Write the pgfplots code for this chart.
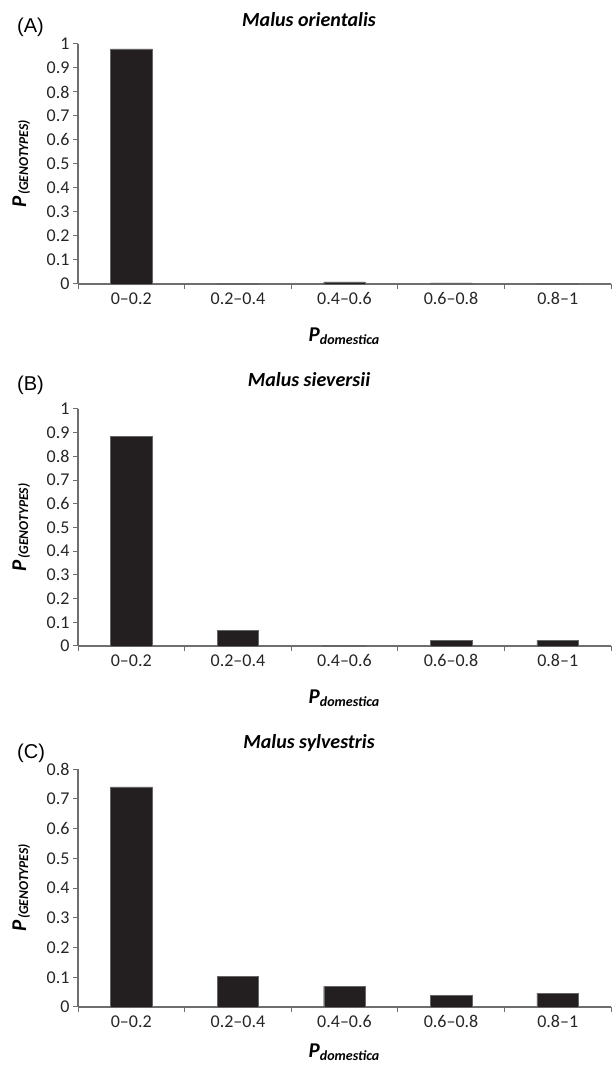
\documentclass[border=0pt]{standalone}
\usepackage{fontspec}
\setmainfont{Carlito}
\newfontfamily\arialf{Liberation Sans}
\usepackage{pgfplots}
\pgfplotsset{compat=1.18}
\definecolor{barfill}{HTML}{231F20}
\definecolor{axgray}{HTML}{6E6E6E}
\pgfplotsset{
  panel/.style={
    scale only axis, width=533pt,
    xmin=-0.5, xmax=4.5, ymin=0,
    axis x line*=bottom, axis y line*=left,
    axis line style={-, draw=axgray, line width=1.1pt},
    tick style={draw=axgray, line width=1.0pt},
    tick align=outside,
    major tick length=5pt,
    xtick={-0.5,0.5,1.5,2.5,3.5,4.5},
    x tick label as interval,
    xticklabels={0–0.2,0.2–0.4,0.4–0.6,0.6–0.8,0.8–1},
    /pgf/number format/assume math mode=true,
    ticklabel style={font=\fontsize{18}{20}\selectfont, text=black!85},
    ybar, bar width=0.39,
    clip=false,
  },
  bars/.style={fill=barfill, draw=black!60, line width=0.4pt},
}
\newcommand{\ylab}{\textbf{\textit{\fontsize{21}{24}\selectfont P}}\,\raisebox{-0.45ex}{\textbf{\textit{\fontsize{13.5}{15}\selectfont (GENOTYPES)}}}}
\newcommand{\xlab}{\textbf{\textit{\fontsize{21}{24}\selectfont P}}\raisebox{-0.5ex}{\textbf{\textit{\fontsize{14}{16}\selectfont domestica}}}}
\begin{document}
\begin{tikzpicture}[x=1pt,y=1pt]
\path[use as bounding box] (0,0) rectangle (611,1068);

% Panel A
\begin{axis}[panel, at={(78pt,784pt)}, anchor=south west, height=240pt,
  ymax=1, ytick={0,0.1,0.2,0.3,0.4,0.5,0.6,0.7,0.8,0.9,1},
  yticklabels={0,0.1,0.2,0.3,0.4,0.5,0.6,0.7,0.8,0.9,1}]
\addplot[bars] coordinates {(0,0.98) (1,0.004) (2,0.009) (3,0.005) (4,0.0)};
\end{axis}
\node[font=\bfseries\itshape\fontsize{20}{24}\selectfont] at (309,1048) {Malus orientalis};
\node[font=\arialf\fontsize{20}{23}\selectfont, anchor=west, inner sep=0pt] at (17,1041) {(A)};
\node[rotate=90, anchor=base] at (26,904) {\ylab};
\node[anchor=base] at (344,726) {\xlab};

% Panel B
\begin{axis}[panel, at={(78pt,422pt)}, anchor=south west, height=237pt,
  ymax=1, ytick={0,0.1,0.2,0.3,0.4,0.5,0.6,0.7,0.8,0.9,1},
  yticklabels={0,0.1,0.2,0.3,0.4,0.5,0.6,0.7,0.8,0.9,1}]
\addplot[bars] coordinates {(0,0.885) (1,0.065) (2,0.004) (3,0.024) (4,0.024)};
\end{axis}
\node[font=\bfseries\itshape\fontsize{20}{24}\selectfont] at (309,688) {Malus sieversii};
\node[font=\arialf\fontsize{20}{23}\selectfont, anchor=west, inner sep=0pt] at (17,683) {(B)};
\node[rotate=90, anchor=base] at (26,540.5) {\ylab};
\node[anchor=base] at (344,364) {\xlab};

% Panel C
\begin{axis}[panel, at={(78pt,61pt)}, anchor=south west, height=238pt,
  ymax=0.8, ytick={0,0.1,0.2,0.3,0.4,0.5,0.6,0.7,0.8},
  yticklabels={0,0.1,0.2,0.3,0.4,0.5,0.6,0.7,0.8}]
\addplot[bars] coordinates {(0,0.74) (1,0.104) (2,0.069) (3,0.040) (4,0.047)};
\end{axis}
\node[font=\bfseries\itshape\fontsize{20}{24}\selectfont] at (309,325) {Malus sylvestris};
\node[font=\arialf\fontsize{20}{23}\selectfont, anchor=west, inner sep=0pt] at (17,315) {(C)};
\node[rotate=90, anchor=base] at (26,180) {\ylab};
\node[anchor=base] at (344,10) {\xlab};
\end{tikzpicture}
\end{document}
